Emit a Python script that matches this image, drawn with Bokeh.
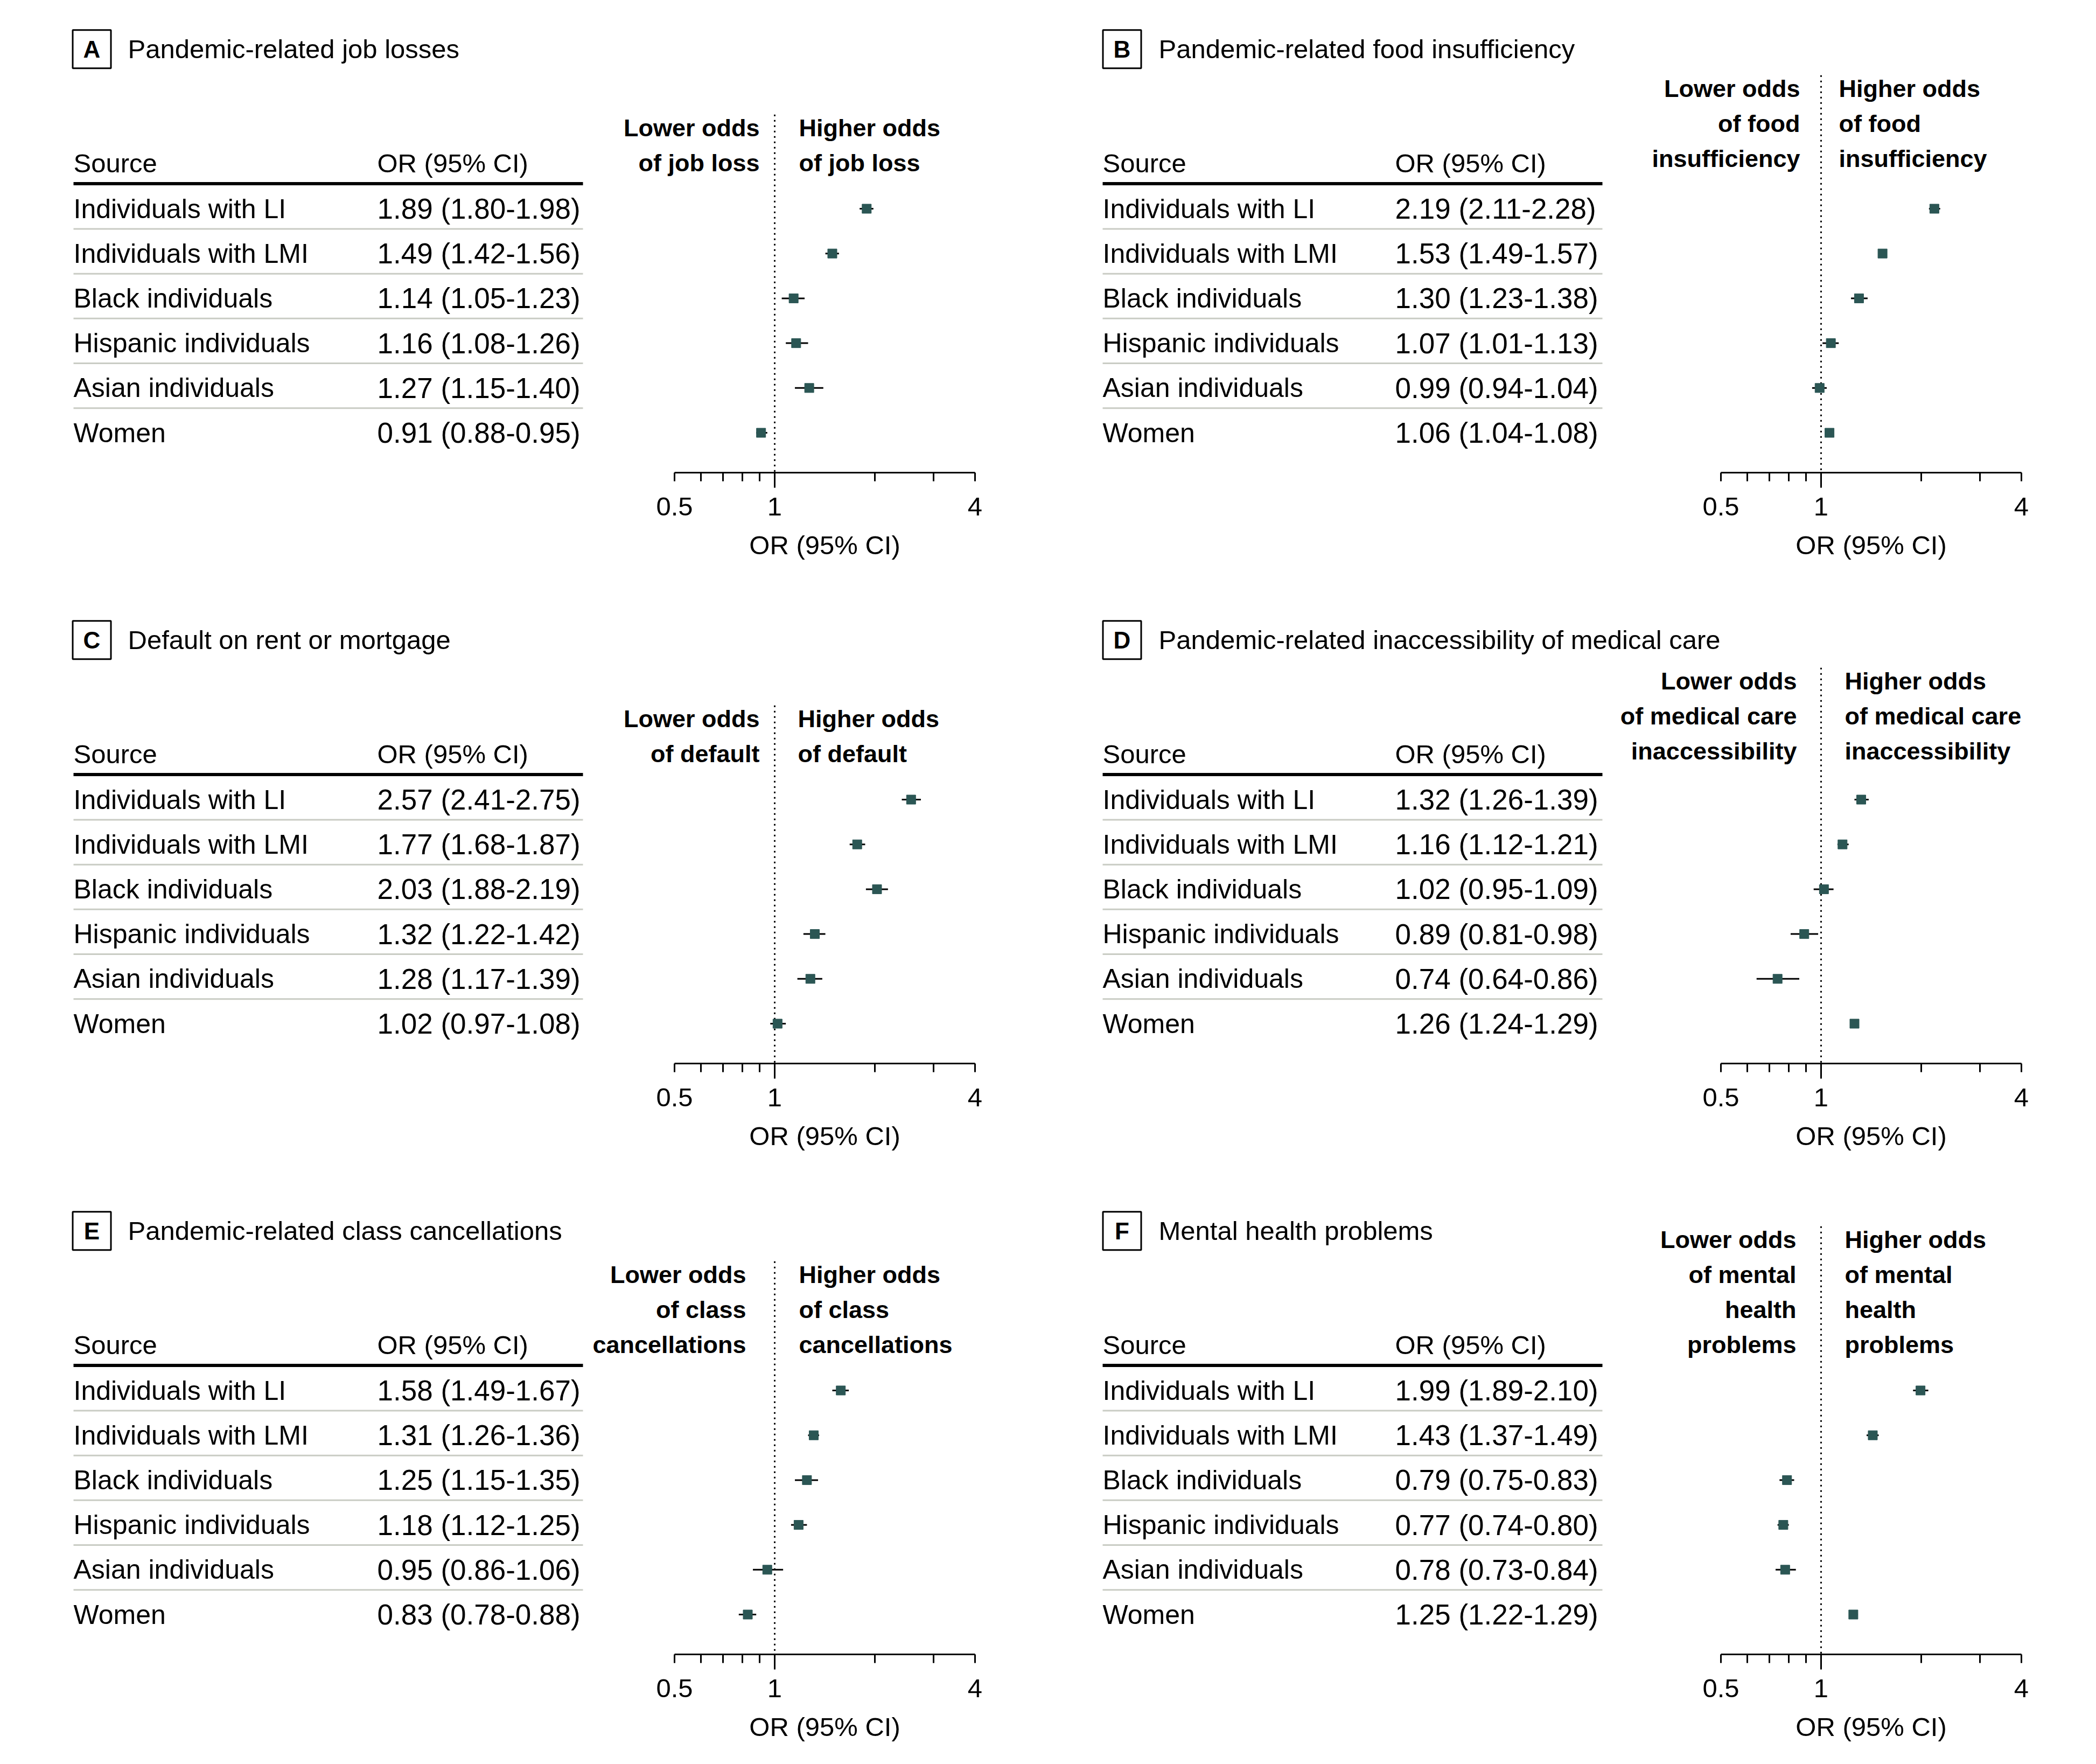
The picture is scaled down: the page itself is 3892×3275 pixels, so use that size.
from bokeh.plotting import figure
from bokeh.models import Range1d, LinearScale, LogAxis, FixedTicker, CustomJSTickFormatter
from bokeh.layouts import column, row
from bokeh.embed import file_html
from bokeh.resources import INLINE
from bokeh.core.properties import value

# ---------------- data ----------------
sources = ["Individuals with LI", "Individuals with LMI", "Black individuals",
           "Hispanic individuals", "Asian individuals", "Women"]

letters = ["A", "B", "C", "D", "E", "F"]
titles = ["Pandemic-related job losses",
          "Pandemic-related food insufficiency",
          "Default on rent or mortgage",
          "Pandemic-related inaccessibility of medical care",
          "Pandemic-related class cancellations",
          "Mental health problems"]

or_A = [1.89, 1.49, 1.14, 1.16, 1.27, 0.91]
lo_A = [1.80, 1.42, 1.05, 1.08, 1.15, 0.88]
hi_A = [1.98, 1.56, 1.23, 1.26, 1.40, 0.95]

or_B = [2.19, 1.53, 1.30, 1.07, 0.99, 1.06]
lo_B = [2.11, 1.49, 1.23, 1.01, 0.94, 1.04]
hi_B = [2.28, 1.57, 1.38, 1.13, 1.04, 1.08]

or_C = [2.57, 1.77, 2.03, 1.32, 1.28, 1.02]
lo_C = [2.41, 1.68, 1.88, 1.22, 1.17, 0.97]
hi_C = [2.75, 1.87, 2.19, 1.42, 1.39, 1.08]

or_D = [1.32, 1.16, 1.02, 0.89, 0.74, 1.26]
lo_D = [1.26, 1.12, 0.95, 0.81, 0.64, 1.24]
hi_D = [1.39, 1.21, 1.09, 0.98, 0.86, 1.29]

or_E = [1.58, 1.31, 1.25, 1.18, 0.95, 0.83]
lo_E = [1.49, 1.26, 1.15, 1.12, 0.86, 0.78]
hi_E = [1.67, 1.36, 1.35, 1.25, 1.06, 0.88]

or_F = [1.99, 1.43, 0.79, 0.77, 0.78, 1.25]
lo_F = [1.89, 1.37, 0.75, 0.74, 0.73, 1.22]
hi_F = [2.10, 1.49, 0.83, 0.80, 0.84, 1.29]

lower_A = ["Lower odds", "of job loss"]
higher_A = ["Higher odds", "of job loss"]
lower_B = ["Lower odds", "of food", "insufficiency"]
higher_B = ["Higher odds", "of food", "insufficiency"]
lower_C = ["Lower odds", "of default"]
higher_C = ["Higher odds", "of default"]
lower_D = ["Lower odds", "of medical care", "inaccessibility"]
higher_D = ["Higher odds", "of medical care", "inaccessibility"]
lower_E = ["Lower odds", "of class", "cancellations"]
higher_E = ["Higher odds", "of class", "cancellations"]
lower_F = ["Lower odds", "of mental", "health", "problems"]
higher_F = ["Higher odds", "of mental", "health", "problems"]

axis_ticks = [0.5, 1, 4]
axis_minor = [0.6, 0.7, 0.8, 0.9, 2, 3]

# ---------------- style / layout ----------------
FONT = "Liberation Sans"
FS = "49px"
RFS = "50px"
NFS = "53px"
HFS = "45px"
MARK = "#2b5654"
GRAY = "#c9ccc4"
PITCH = 83.2
ROW0S = [387, 378, 377]
HEIGHTS = [1106, 1098, 1051]

LEFT = dict(w=1946, tx=136, orx=700, rule_end=1082, box_cx=170, title_x=237, a05=1252, a4=1810)
RIGHT = dict(w=1938, tx=101, orx=644, rule_end=1029, box_cx=137, title_x=205, a05=1249, a4=1807)

gapL = [28, 39, 28, 45, 53, 46]
gapR = [45, 33, 43, 44, 45, 44]
head_shift = [0, -8, 0, -5, 0, 0]

panels = [
    (or_A, lo_A, hi_A, lower_A, higher_A),
    (or_B, lo_B, hi_B, lower_B, higher_B),
    (or_C, lo_C, hi_C, lower_C, higher_C),
    (or_D, lo_D, hi_D, lower_D, higher_D),
    (or_E, lo_E, hi_E, lower_E, higher_E),
    (or_F, lo_F, hi_F, lower_F, higher_F),
]


def make_panel(k):
    ors, los, his, lower, higher = panels[k]
    g = LEFT if k % 2 == 0 else RIGHT
    W = g["w"]
    H = HEIGHTS[k // 2]
    ROW0 = ROW0S[k // 2]
    ppu = (g["a4"] - g["a05"]) / 3.0
    xl = 2 ** (-1 - g["a05"] / ppu)
    xr = 2 ** (2 + (W - g["a4"]) / ppu)
    ytop = -ROW0 / PITCH
    ybot = (H - ROW0) / PITCH

    p = figure(width=W, height=H, x_axis_type="log",
               x_range=Range1d(xl, xr), y_range=Range1d(ybot, ytop),
               x_axis_location=None, y_axis_location=None,
               toolbar_location=None, output_backend="svg",
               min_border=0, min_border_left=0, min_border_right=0,
               min_border_top=0, min_border_bottom=0,
               outline_line_color=None, title=None)
    p.extra_x_ranges = {"px": Range1d(0, W)}
    p.extra_x_scales = {"px": LinearScale()}
    p.grid.visible = False

    rows_y = list(range(len(sources)))
    y_src = -1.02
    y_rule = -0.56
    y_title = -3.56
    y_axis = 5.89

    # title box and title
    p.rect(x=[g["box_cx"]], y=[y_title], width=71, height=71,
           width_units="screen", height_units="screen",
           fill_color=None, line_color="black", line_width=3, x_range_name="px")
    p.text(x=[g["box_cx"]], y=[y_title], text=[letters[k]], x_range_name="px",
           text_font=value(FONT), text_font_size="44px", text_font_style="bold",
           text_align="center", text_baseline="middle", text_color="black")
    p.text(x=[g["title_x"]], y=[y_title], text=[titles[k]], x_range_name="px",
           text_font=value(FONT), text_font_size=FS,
           text_align="left", text_baseline="middle", text_color="black")

    # table header
    p.text(x=[g["tx"], g["orx"]], y=[y_src, y_src], text=["Source", "OR (95% CI)"],
           x_range_name="px", text_font=value(FONT), text_font_size=FS,
           text_align="left", text_baseline="middle", text_color="black")
    p.segment(x0=[g["tx"]], x1=[g["rule_end"]], y0=[y_rule], y1=[y_rule],
              x_range_name="px", line_color="black", line_width=6)

    # row separators
    seps = rows_y[:-1]
    p.segment(x0=[g["tx"]] * len(seps), x1=[g["rule_end"]] * len(seps),
              y0=[r + 0.45 for r in seps], y1=[r + 0.45 for r in seps],
              x_range_name="px", line_color=GRAY, line_width=3)

    # table body
    labels = [f"{o:.2f} ({l:.2f}-{h:.2f})" for o, l, h in zip(ors, los, his)]
    p.text(x=[g["tx"]] * len(sources), y=rows_y, text=sources, x_range_name="px",
           text_font=value(FONT), text_font_size=RFS,
           text_align="left", text_baseline="middle", text_color="black")
    p.text(x=[g["orx"]] * len(sources), y=rows_y, text=labels, x_range_name="px",
           text_font=value(FONT), text_font_size=NFS,
           text_align="left", text_baseline="middle", text_color="black")

    # direction headers
    n = len(lower)
    offs = [-(n - 1 - i) * 65 + head_shift[k] for i in range(n)]
    p.text(x=[1] * n, y=[y_src] * n, text=lower, x_offset=-gapL[k], y_offset=offs,
           text_font=value(FONT), text_font_size=HFS, text_font_style="bold",
           text_align="right", text_baseline="middle", text_color="black")
    p.text(x=[1] * n, y=[y_src] * n, text=higher, x_offset=gapR[k], y_offset=offs,
           text_font=value(FONT), text_font_size=HFS, text_font_style="bold",
           text_align="left", text_baseline="middle", text_color="black")

    # reference line at OR = 1
    y_dot_top = y_src - (n - 1) * 65 / PITCH - 25 / PITCH + head_shift[k] / PITCH
    p.segment(x0=[1], x1=[1], y0=[y_dot_top], y1=[y_axis],
              line_color="black", line_width=3, line_dash="3 7")

    # CIs and point estimates
    p.segment(x0=los, x1=his, y0=rows_y, y1=rows_y, line_color="black", line_width=3)
    p.scatter(x=ors, y=rows_y, marker="square", size=17,
              fill_color=MARK, line_color=MARK)

    # axis
    ax = LogAxis(fixed_location=y_axis, bounds=(0.5, 4),
                 ticker=FixedTicker(ticks=axis_ticks, minor_ticks=axis_minor),
                 formatter=CustomJSTickFormatter(code="return tick.toString();"),
                 axis_label="OR (95% CI)",
                 axis_line_width=3, axis_line_color="black",
                 major_tick_in=0, major_tick_out=16, major_tick_line_width=3,
                 minor_tick_in=0, minor_tick_out=16, minor_tick_line_width=3,
                 major_label_standoff=30,
                 major_label_text_font=FONT, major_label_text_font_size=FS,
                 major_label_text_color="black",
                 axis_label_standoff=25,
                 axis_label_text_font=FONT, axis_label_text_font_size=FS,
                 axis_label_text_font_style="normal", axis_label_text_color="black")
    p.add_layout(ax, "below")
    ax1 = LogAxis(fixed_location=y_axis,
                  ticker=FixedTicker(ticks=[1], minor_ticks=[]),
                  formatter=CustomJSTickFormatter(code="return '';"),
                  axis_line_color=None, major_tick_in=0, major_tick_out=28,
                  major_tick_line_width=3, major_tick_line_color="black",
                  minor_tick_line_color=None, major_label_text_font_size="1px")
    p.add_layout(ax1, "below")
    return p


figs = [make_panel(k) for k in range(6)]
layout = column(row(figs[0], figs[1]), row(figs[2], figs[3]), row(figs[4], figs[5]))

open("out.html", "w").write(file_html(layout, INLINE))
